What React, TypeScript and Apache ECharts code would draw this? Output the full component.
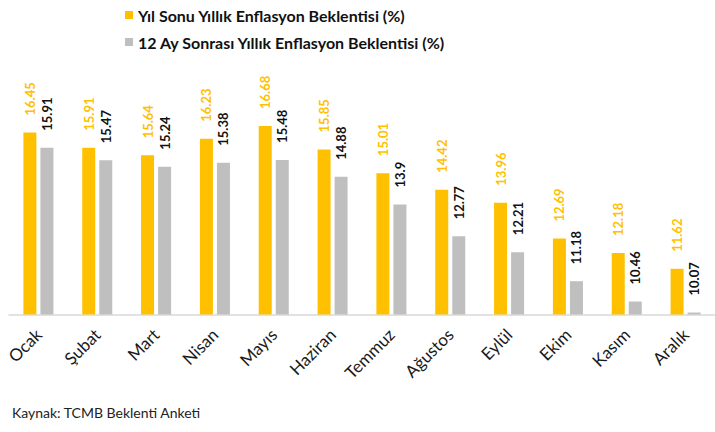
import React, { useEffect, useRef } from "react";
import * as echarts from "echarts";

const categories = ["Ocak", "Şubat", "Mart", "Nisan", "Mayıs", "Haziran", "Temmuz", "Ağustos", "Eylül", "Ekim", "Kasım", "Aralık"];
const yilSonu = [16.45, 15.91, 15.64, 16.23, 16.68, 15.85, 15.01, 14.42, 13.96, 12.69, 12.18, 11.62];
const onIkiAy = [15.91, 15.47, 15.24, 15.38, 15.48, 14.88, 13.9, 12.77, 12.21, 11.18, 10.46, 10.07];
const seriesNames = ["Yıl Sonu Yıllık Enflasyon Beklentisi (%)", "12 Ay Sonrası Yıllık Enflasyon Beklentisi (%)"];
const sourceText = "Kaynak: TCMB Beklenti Anketi";

const FONT = "Lato, 'Open Sans', sans-serif";

export default function App() {
  const ref = useRef<HTMLDivElement>(null);
  useEffect(() => {
    if (!ref.current) return;
    const chart = echarts.init(ref.current, undefined, { renderer: "svg" });
    const labelBase = {
      show: true,
      position: "top",
      rotate: 90,
      align: "left",
      verticalAlign: "middle",
      distance: 17,
      fontFamily: FONT,
      fontWeight: "bold",
      fontSize: 13,
    };
    chart.setOption({
      animation: false,
      backgroundColor: "#ffffff",
      legend: {
        orient: "vertical",
        left: 125,
        top: 6,
        padding: 0,
        itemWidth: 8,
        itemHeight: 8,
        itemGap: 9,
        icon: "rect",
        textStyle: { fontFamily: FONT, fontWeight: "bold", fontSize: 16, color: "#111", lineHeight: 18 },
        data: seriesNames,
      },
      grid: { left: 9, width: 713, top: 117, bottom: 117.5, containLabel: false },
      xAxis: {
        type: "category",
        data: categories,
        axisLine: { lineStyle: { color: "#D9D9D9", width: 1.5 } },
        axisTick: { show: false },
        axisLabel: { rotate: 45, margin: 17, interval: 0, fontFamily: FONT, fontSize: 17, color: "#1a1a1a" },
      },
      yAxis: {
        type: "value",
        min: 10,
        max: 17,
        show: false,
        splitLine: { show: false },
      },
      series: [
        {
          name: seriesNames[0],
          type: "bar",
          data: yilSonu,
          barWidth: 13,
          barGap: "31%",
          itemStyle: { color: "#FFC000" },
          label: { ...labelBase, color: "#FFC000" },
        },
        {
          name: seriesNames[1],
          type: "bar",
          data: onIkiAy,
          barWidth: 13,
          itemStyle: { color: "#BFBFBF" },
          label: { ...labelBase, color: "#111" },
        },
      ],
      graphic: [
        {
          type: "text",
          left: 12,
          top: 405,
          style: { text: sourceText, font: "14px " + FONT, fill: "#222" },
        },
      ],
    });
    return () => chart.dispose();
  }, []);
  return <div ref={ref} style={{ position: "fixed", left: 0, top: 0, width: 715, height: 432 }} />;
}
